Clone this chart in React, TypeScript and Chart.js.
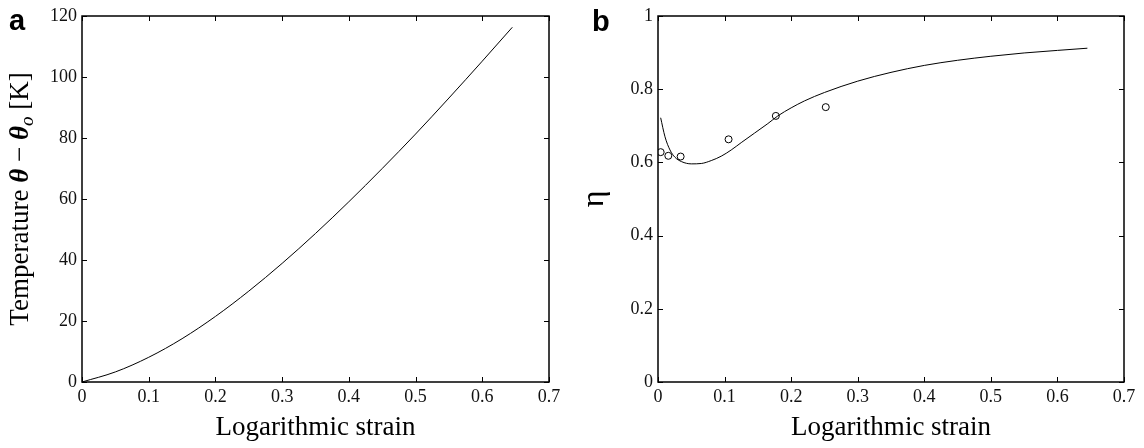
import React, { useEffect, useRef } from "react";
import { Chart, registerables } from "chart.js";
Chart.register(...registerables);

// ---- Panel a: temperature rise vs logarithmic strain ----
const strainA = [0, 0.05, 0.1, 0.15, 0.2, 0.25, 0.3, 0.35, 0.4, 0.45, 0.5, 0.55, 0.6, 0.645];
const tempA = [0, 3.3, 8.1, 14.2, 21.5, 29.8, 38.9, 48.7, 59.1, 70, 81.3, 93.1, 105.2, 116.3];

// ---- Panel b: eta vs logarithmic strain (model curve) ----
const strainB = [0.004, 0.0105, 0.018, 0.0255, 0.0355, 0.05, 0.065, 0.08, 0.095, 0.11, 0.125, 0.145, 0.165, 0.18, 0.2, 0.22, 0.25, 0.3, 0.35, 0.4, 0.45, 0.5, 0.55, 0.6, 0.645];
const etaB = [0.722, 0.67, 0.634, 0.614, 0.602, 0.596, 0.597, 0.605, 0.617, 0.634, 0.654, 0.68, 0.706, 0.727, 0.749, 0.768, 0.791, 0.822, 0.846, 0.865, 0.879, 0.89, 0.899, 0.906, 0.912];

// ---- Panel b: experimental points ----
const strainExp = [0.004, 0.0155, 0.034, 0.106, 0.177, 0.252];
const etaExp = [0.628, 0.618, 0.616, 0.663, 0.727, 0.751];

// ---- Tick labels ----
const xTicks = [0, 0.1, 0.2, 0.3, 0.4, 0.5, 0.6, 0.7];
const yTicksA = [0, 20, 40, 60, 80, 100, 120];
const yTicksB = [0, 0.2, 0.4, 0.6, 0.8, 1];

const xTitle = "Logarithmic strain";
const panelLabels = ["a", "b"];

const SERIF = "'Liberation Serif', 'Times New Roman', serif";
const SANS = "'Liberation Sans', Arial, sans-serif";

const framePlugin = {
  id: "frame",
  afterDatasetsDraw(chart: any) {
    const { ctx, chartArea, scales } = chart;
    const { left, right, top, bottom } = chartArea;
    const L = 5;
    ctx.save();
    ctx.strokeStyle = "#000";
    ctx.lineWidth = 1;
    scales.x.ticks.forEach((t: any) => {
      const p = Math.round(scales.x.getPixelForValue(t.value)) + 0.5;
      ctx.beginPath();
      ctx.moveTo(p, bottom);
      ctx.lineTo(p, bottom - L);
      ctx.moveTo(p, top);
      ctx.lineTo(p, top + L);
      ctx.stroke();
    });
    scales.y.ticks.forEach((t: any) => {
      const p = Math.round(scales.y.getPixelForValue(t.value)) + 0.5;
      ctx.beginPath();
      ctx.moveTo(left, p);
      ctx.lineTo(left + L, p);
      ctx.moveTo(right, p);
      ctx.lineTo(right - L, p);
      ctx.stroke();
    });
    ctx.lineWidth = 1.5;
    ctx.strokeRect(left, top, right - left, bottom - top);
    ctx.restore();
  },
};

function makeLabelPlugin(letter: string, lx: number, ly: number, drawYTitle: boolean) {
  return {
    id: "labels-" + letter,
    afterDraw(chart: any) {
      const { ctx, chartArea } = chart;
      ctx.save();
      ctx.fillStyle = "#000";
      ctx.textBaseline = "alphabetic";
      ctx.textAlign = "left";
      ctx.font = `bold 29px ${SANS}`;
      ctx.fillText(letter, lx, ly);
      if (drawYTitle) {
        const segs = [
          { t: "Temperature ", f: `27px ${SERIF}`, dy: 0 },
          { t: "θ", f: `italic bold 27px ${SERIF}`, dy: 0 },
          { t: " − ", f: `27px ${SERIF}`, dy: 0 },
          { t: "θ", f: `italic bold 27px ${SERIF}`, dy: 0 },
          { t: "o", f: `italic 19px ${SERIF}`, dy: 5 },
          { t: " [K]", f: `27px ${SERIF}`, dy: 0 },
        ];
        let total = 0;
        const widths = segs.map((s) => {
          ctx.font = s.f;
          const w = ctx.measureText(s.t).width;
          total += w;
          return w;
        });
        const cy = (chartArea.top + chartArea.bottom) / 2;
        ctx.translate(28, cy);
        ctx.rotate(-Math.PI / 2);
        let x = -total / 2;
        segs.forEach((s, i) => {
          ctx.font = s.f;
          ctx.fillText(s.t, x, s.dy);
          x += widths[i];
        });
      }
      ctx.restore();
    },
  };
}

function baseOptions(yMin: number, yMax: number, yTicks: number[], yWidth: number, rightPad: number, yTitle: any) {
  return {
    responsive: false,
    animation: false as const,
    layout: { padding: { left: 0, top: 16, right: rightPad, bottom: 0 } },
    plugins: { legend: { display: false }, tooltip: { enabled: false } },
    scales: {
      x: {
        type: "linear" as const,
        min: 0,
        max: 0.7,
        grid: { display: false, drawTicks: false },
        border: { display: false },
        afterBuildTicks: (s: any) => {
          s.ticks = xTicks.map((v) => ({ value: v }));
        },
        afterFit: (s: any) => {
          s.height = 66;
        },
        ticks: {
          padding: 4,
          maxRotation: 0,
          autoSkip: false,
          color: "#111",
          font: { family: SERIF, size: 18 },
          callback: (v: any) => String(Math.round(v * 10) / 10),
        },
        title: {
          display: true,
          text: xTitle,
          color: "#000",
          font: { family: SERIF, size: 27 },
          padding: { top: 0, bottom: 4 },
        },
      },
      y: {
        type: "linear" as const,
        min: yMin,
        max: yMax,
        grid: { display: false, drawTicks: false },
        border: { display: false },
        afterBuildTicks: (s: any) => {
          s.ticks = yTicks.map((v) => ({ value: v }));
        },
        afterFit: (s: any) => {
          s.width = yWidth;
        },
        ticks: {
          padding: 5,
          autoSkip: false,
          color: "#111",
          font: { family: SERIF, size: 18 },
          callback: (v: any) => String(Math.round(v * 10) / 10),
        },
        title: yTitle,
      },
    },
  };
}

export default function App() {
  const refA = useRef<HTMLCanvasElement>(null);
  const refB = useRef<HTMLCanvasElement>(null);

  useEffect(() => {
    const chartA = new Chart(refA.current!, {
      type: "line",
      data: {
        datasets: [
          {
            data: strainA.map((x, i) => ({ x, y: tempA[i] })),
            borderColor: "#000",
            borderWidth: 1,
            pointRadius: 0,
            cubicInterpolationMode: "monotone",
            fill: false,
          },
        ],
      },
      options: baseOptions(0, 120, yTicksA, 82, 23, { display: false }) as any,
      plugins: [framePlugin, makeLabelPlugin(panelLabels[0], 9, 30, true)],
    });

    const chartB = new Chart(refB.current!, {
      type: "line",
      data: {
        datasets: [
          {
            data: strainB.map((x, i) => ({ x, y: etaB[i] })),
            borderColor: "#000",
            borderWidth: 1,
            pointRadius: 0,
            cubicInterpolationMode: "monotone",
            fill: false,
          },
          {
            data: strainExp.map((x, i) => ({ x, y: etaExp[i] })),
            showLine: false,
            borderColor: "#000",
            backgroundColor: "rgba(0,0,0,0)",
            pointRadius: 3.5,
            pointBorderWidth: 1,
            pointStyle: "circle",
          },
        ],
      },
      options: baseOptions(0, 1, yTicksB, 86, 20, {
        display: true,
        text: "η",
        color: "#000",
        font: { family: SERIF, size: 32 },
        padding: { top: 3, bottom: 0 },
      }) as any,
      plugins: [framePlugin, makeLabelPlugin(panelLabels[1], 20, 31, false)],
    });

    return () => {
      chartA.destroy();
      chartB.destroy();
    };
  }, []);

  return (
    <div style={{ position: "fixed", left: 0, top: 0, width: 1144, height: 448, background: "#fff" }}>
      <canvas ref={refA} width={572} height={448} style={{ position: "absolute", left: 0, top: 0 }} />
      <canvas ref={refB} width={572} height={448} style={{ position: "absolute", left: 572, top: 0 }} />
    </div>
  );
}
